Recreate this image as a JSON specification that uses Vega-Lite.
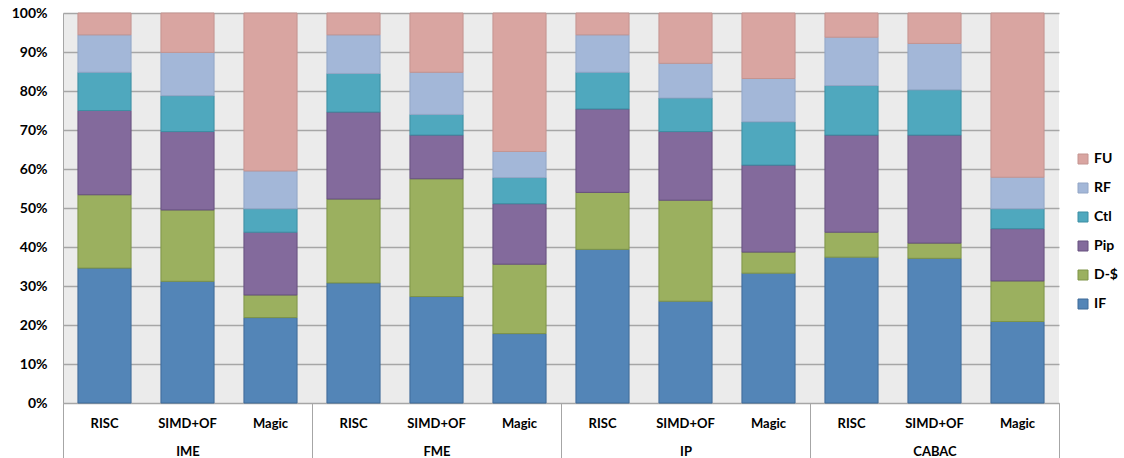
{
  "$schema": "https://vega.github.io/schema/vega-lite/v6.json",
  "width": 996,
  "height": 390,
  "autosize": {"type": "none"},
  "padding": {"left": 63, "top": 13, "right": 65, "bottom": 55},
  "background": "white",
  "config": {
    "view": {"fill": "#ebebeb", "stroke": null},
    "font": "Lato",
    "axis": {"labelColor": "#000000", "labelFontWeight": "bold", "title": null}
  },
  "datasets": {
    "shares": [
      {"group": "IME", "config": "RISC", "key": "IME|RISC", "part": "IF", "rank": 1, "share": 34.6},
      {"group": "IME", "config": "RISC", "key": "IME|RISC", "part": "D-$", "rank": 2, "share": 18.8},
      {"group": "IME", "config": "RISC", "key": "IME|RISC", "part": "Pip", "rank": 3, "share": 21.6},
      {"group": "IME", "config": "RISC", "key": "IME|RISC", "part": "Ctl", "rank": 4, "share": 9.8},
      {"group": "IME", "config": "RISC", "key": "IME|RISC", "part": "RF", "rank": 5, "share": 9.6},
      {"group": "IME", "config": "RISC", "key": "IME|RISC", "part": "FU", "rank": 6, "share": 5.6},
      {"group": "IME", "config": "SIMD+OF", "key": "IME|SIMD+OF", "part": "IF", "rank": 1, "share": 31.2},
      {"group": "IME", "config": "SIMD+OF", "key": "IME|SIMD+OF", "part": "D-$", "rank": 2, "share": 18.3},
      {"group": "IME", "config": "SIMD+OF", "key": "IME|SIMD+OF", "part": "Pip", "rank": 3, "share": 20.1},
      {"group": "IME", "config": "SIMD+OF", "key": "IME|SIMD+OF", "part": "Ctl", "rank": 4, "share": 9.2},
      {"group": "IME", "config": "SIMD+OF", "key": "IME|SIMD+OF", "part": "RF", "rank": 5, "share": 11.1},
      {"group": "IME", "config": "SIMD+OF", "key": "IME|SIMD+OF", "part": "FU", "rank": 6, "share": 10.1},
      {"group": "IME", "config": "Magic", "key": "IME|Magic", "part": "IF", "rank": 1, "share": 21.9},
      {"group": "IME", "config": "Magic", "key": "IME|Magic", "part": "D-$", "rank": 2, "share": 5.8},
      {"group": "IME", "config": "Magic", "key": "IME|Magic", "part": "Pip", "rank": 3, "share": 16.1},
      {"group": "IME", "config": "Magic", "key": "IME|Magic", "part": "Ctl", "rank": 4, "share": 6.0},
      {"group": "IME", "config": "Magic", "key": "IME|Magic", "part": "RF", "rank": 5, "share": 9.7},
      {"group": "IME", "config": "Magic", "key": "IME|Magic", "part": "FU", "rank": 6, "share": 40.5},
      {"group": "FME", "config": "RISC", "key": "FME|RISC", "part": "IF", "rank": 1, "share": 30.8},
      {"group": "FME", "config": "RISC", "key": "FME|RISC", "part": "D-$", "rank": 2, "share": 21.5},
      {"group": "FME", "config": "RISC", "key": "FME|RISC", "part": "Pip", "rank": 3, "share": 22.3},
      {"group": "FME", "config": "RISC", "key": "FME|RISC", "part": "Ctl", "rank": 4, "share": 9.9},
      {"group": "FME", "config": "RISC", "key": "FME|RISC", "part": "RF", "rank": 5, "share": 9.9},
      {"group": "FME", "config": "RISC", "key": "FME|RISC", "part": "FU", "rank": 6, "share": 5.6},
      {"group": "FME", "config": "SIMD+OF", "key": "FME|SIMD+OF", "part": "IF", "rank": 1, "share": 27.3},
      {"group": "FME", "config": "SIMD+OF", "key": "FME|SIMD+OF", "part": "D-$", "rank": 2, "share": 30.2},
      {"group": "FME", "config": "SIMD+OF", "key": "FME|SIMD+OF", "part": "Pip", "rank": 3, "share": 11.2},
      {"group": "FME", "config": "SIMD+OF", "key": "FME|SIMD+OF", "part": "Ctl", "rank": 4, "share": 5.3},
      {"group": "FME", "config": "SIMD+OF", "key": "FME|SIMD+OF", "part": "RF", "rank": 5, "share": 10.8},
      {"group": "FME", "config": "SIMD+OF", "key": "FME|SIMD+OF", "part": "FU", "rank": 6, "share": 15.2},
      {"group": "FME", "config": "Magic", "key": "FME|Magic", "part": "IF", "rank": 1, "share": 17.8},
      {"group": "FME", "config": "Magic", "key": "FME|Magic", "part": "D-$", "rank": 2, "share": 17.8},
      {"group": "FME", "config": "Magic", "key": "FME|Magic", "part": "Pip", "rank": 3, "share": 15.5},
      {"group": "FME", "config": "Magic", "key": "FME|Magic", "part": "Ctl", "rank": 4, "share": 6.7},
      {"group": "FME", "config": "Magic", "key": "FME|Magic", "part": "RF", "rank": 5, "share": 6.7},
      {"group": "FME", "config": "Magic", "key": "FME|Magic", "part": "FU", "rank": 6, "share": 35.5},
      {"group": "IP", "config": "RISC", "key": "IP|RISC", "part": "IF", "rank": 1, "share": 39.4},
      {"group": "IP", "config": "RISC", "key": "IP|RISC", "part": "D-$", "rank": 2, "share": 14.6},
      {"group": "IP", "config": "RISC", "key": "IP|RISC", "part": "Pip", "rank": 3, "share": 21.4},
      {"group": "IP", "config": "RISC", "key": "IP|RISC", "part": "Ctl", "rank": 4, "share": 9.4},
      {"group": "IP", "config": "RISC", "key": "IP|RISC", "part": "RF", "rank": 5, "share": 9.6},
      {"group": "IP", "config": "RISC", "key": "IP|RISC", "part": "FU", "rank": 6, "share": 5.6},
      {"group": "IP", "config": "SIMD+OF", "key": "IP|SIMD+OF", "part": "IF", "rank": 1, "share": 26.1},
      {"group": "IP", "config": "SIMD+OF", "key": "IP|SIMD+OF", "part": "D-$", "rank": 2, "share": 25.9},
      {"group": "IP", "config": "SIMD+OF", "key": "IP|SIMD+OF", "part": "Pip", "rank": 3, "share": 17.6},
      {"group": "IP", "config": "SIMD+OF", "key": "IP|SIMD+OF", "part": "Ctl", "rank": 4, "share": 8.6},
      {"group": "IP", "config": "SIMD+OF", "key": "IP|SIMD+OF", "part": "RF", "rank": 5, "share": 8.9},
      {"group": "IP", "config": "SIMD+OF", "key": "IP|SIMD+OF", "part": "FU", "rank": 6, "share": 12.9},
      {"group": "IP", "config": "Magic", "key": "IP|Magic", "part": "IF", "rank": 1, "share": 33.3},
      {"group": "IP", "config": "Magic", "key": "IP|Magic", "part": "D-$", "rank": 2, "share": 5.4},
      {"group": "IP", "config": "Magic", "key": "IP|Magic", "part": "Pip", "rank": 3, "share": 22.3},
      {"group": "IP", "config": "Magic", "key": "IP|Magic", "part": "Ctl", "rank": 4, "share": 11.1},
      {"group": "IP", "config": "Magic", "key": "IP|Magic", "part": "RF", "rank": 5, "share": 11.1},
      {"group": "IP", "config": "Magic", "key": "IP|Magic", "part": "FU", "rank": 6, "share": 16.8},
      {"group": "CABAC", "config": "RISC", "key": "CABAC|RISC", "part": "IF", "rank": 1, "share": 37.4},
      {"group": "CABAC", "config": "RISC", "key": "CABAC|RISC", "part": "D-$", "rank": 2, "share": 6.4},
      {"group": "CABAC", "config": "RISC", "key": "CABAC|RISC", "part": "Pip", "rank": 3, "share": 24.9},
      {"group": "CABAC", "config": "RISC", "key": "CABAC|RISC", "part": "Ctl", "rank": 4, "share": 12.7},
      {"group": "CABAC", "config": "RISC", "key": "CABAC|RISC", "part": "RF", "rank": 5, "share": 12.4},
      {"group": "CABAC", "config": "RISC", "key": "CABAC|RISC", "part": "FU", "rank": 6, "share": 6.2},
      {"group": "CABAC", "config": "SIMD+OF", "key": "CABAC|SIMD+OF", "part": "IF", "rank": 1, "share": 37.1},
      {"group": "CABAC", "config": "SIMD+OF", "key": "CABAC|SIMD+OF", "part": "D-$", "rank": 2, "share": 3.9},
      {"group": "CABAC", "config": "SIMD+OF", "key": "CABAC|SIMD+OF", "part": "Pip", "rank": 3, "share": 27.7},
      {"group": "CABAC", "config": "SIMD+OF", "key": "CABAC|SIMD+OF", "part": "Ctl", "rank": 4, "share": 11.6},
      {"group": "CABAC", "config": "SIMD+OF", "key": "CABAC|SIMD+OF", "part": "RF", "rank": 5, "share": 11.9},
      {"group": "CABAC", "config": "SIMD+OF", "key": "CABAC|SIMD+OF", "part": "FU", "rank": 6, "share": 7.8},
      {"group": "CABAC", "config": "Magic", "key": "CABAC|Magic", "part": "IF", "rank": 1, "share": 20.9},
      {"group": "CABAC", "config": "Magic", "key": "CABAC|Magic", "part": "D-$", "rank": 2, "share": 10.4},
      {"group": "CABAC", "config": "Magic", "key": "CABAC|Magic", "part": "Pip", "rank": 3, "share": 13.4},
      {"group": "CABAC", "config": "Magic", "key": "CABAC|Magic", "part": "Ctl", "rank": 4, "share": 5.1},
      {"group": "CABAC", "config": "Magic", "key": "CABAC|Magic", "part": "RF", "rank": 5, "share": 8.1},
      {"group": "CABAC", "config": "Magic", "key": "CABAC|Magic", "part": "FU", "rank": 6, "share": 42.1}
    ],
    "groups": [
      {"group": "IME"},
      {"group": "FME"},
      {"group": "IP"},
      {"group": "CABAC"}
    ]
  },
  "layer": [
    {
      "data": {"name": "shares"},
      "mark": {"type": "bar", "strokeWidth": 1},
      "encoding": {
        "x": {
          "field": "key",
          "type": "nominal",
          "sort": null,
          "scale": {"paddingInner": 0.36, "paddingOuter": 0.18},
          "axis": {
            "orient": "bottom",
            "labelExpr": "split(datum.label, '|')[1]",
            "labelAngle": 0,
            "ticks": false,
            "labelPadding": 20,
            "labelBaseline": "middle",
            "labelFontSize": 13,
            "domainColor": "#a6a6a6",
            "domainWidth": 1
          }
        },
        "y": {
          "field": "share",
          "type": "quantitative",
          "stack": "normalize",
          "scale": {"domain": [0, 1]},
          "axis": {
            "format": ".0%",
            "values": [0, 0.1, 0.2, 0.3, 0.4, 0.5, 0.6, 0.7, 0.8, 0.9, 1],
            "grid": true,
            "gridColor": "#a6a6a6",
            "gridWidth": 1.5,
            "ticks": false,
            "domainColor": "#a6a6a6",
            "labelPadding": 16,
            "labelFontSize": 14
          }
        },
        "fill": {
          "field": "part",
          "type": "nominal",
          "scale": {
            "domain": ["FU", "RF", "Ctl", "Pip", "D-$", "IF"],
            "range": ["#d9a5a1", "#a3b7d8", "#4fa8be", "#836a9c", "#9bb05f", "#5385b7"]
          },
          "legend": {
            "title": null,
            "orient": "none",
            "legendX": 1013,
            "legendY": 139,
            "symbolType": "square",
            "symbolSize": 100,
            "symbolStrokeWidth": 1,
            "labelFontSize": 14,
            "labelFontWeight": "bold",
            "labelColor": "#000000",
            "labelOffset": 4,
            "rowPadding": 15
          }
        },
        "stroke": {
          "field": "part",
          "type": "nominal",
          "scale": {
            "domain": ["FU", "RF", "Ctl", "Pip", "D-$", "IF"],
            "range": ["#c49490", "#93a6c6", "#3d8ea3", "#66507f", "#7e9448", "#3f6a98"]
          },
          "legend": {
            "title": null,
            "orient": "none",
            "legendX": 1013,
            "legendY": 139,
            "symbolType": "square",
            "symbolSize": 100,
            "symbolStrokeWidth": 1,
            "labelFontSize": 14,
            "labelFontWeight": "bold",
            "labelColor": "#000000",
            "labelOffset": 4,
            "rowPadding": 15
          }
        },
        "order": {"field": "rank", "type": "quantitative"}
      }
    },
    {
      "data": {"name": "groups"},
      "mark": {"type": "bar", "opacity": 0},
      "encoding": {
        "x": {
          "field": "group",
          "type": "nominal",
          "sort": null,
          "scale": {"paddingInner": 0, "paddingOuter": 0},
          "axis": {
            "orient": "bottom",
            "labelAngle": 0,
            "domain": false,
            "ticks": true,
            "tickBand": "extent",
            "tickSize": 55,
            "tickColor": "#a6a6a6",
            "tickWidth": 1,
            "labelPadding": -7,
            "labelBaseline": "middle",
            "labelFontSize": 13
          }
        }
      }
    }
  ],
  "resolve": {"scale": {"x": "independent"}}
}
